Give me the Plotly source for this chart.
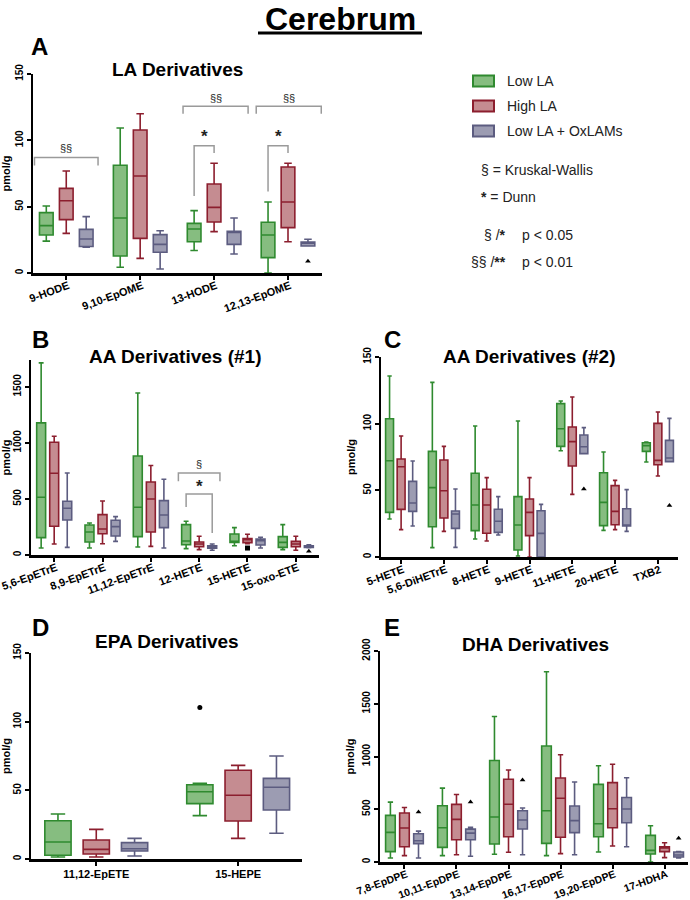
import plotly.graph_objects as go

W, H = 690, 900
FONT = "Arial, Liberation Sans, sans-serif"

# ---------------- data ----------------
groups = ["Low LA", "High LA", "Low LA + OxLAMs"]
line_colors = ["#2f8a2f", "#8c1e2e", "#5c5c80"]
fill_colors = ["#86bd80", "#c58c91", "#9c9cb2"]
group_offsets = [-0.27, 0.0, 0.27]
out_symbols = ["circle", "square", "triangle-up"]

# Panel A: LA derivatives
A_cats = ["9-HODE", "9,10-EpOME", "13-HODE", "12,13-EpOME"]
A_low_lf = [24, 4.3, 17, 0]
A_low_q1 = [28.6, 12.8, 23.6, 11.6]
A_low_med = [35.7, 41.5, 33.2, 28.6]
A_low_q3 = [45.5, 81.2, 37.4, 38.2]
A_low_uf = [50.5, 109.3, 47, 53.5]
A_high_lf = [29.9, 11, 31.2, 23.6]
A_high_q1 = [40.2, 26.1, 38.4, 34.2]
A_high_med = [54.5, 73.1, 49.5, 53.5]
A_high_q3 = [63.8, 107.8, 67.1, 79.9]
A_high_uf = [76.9, 120, 82.7, 82.7]
A_ox_lf = [19.5, 3, 14.3, 20.4]
A_ox_q1 = [20, 15.6, 21.6, 20.4]
A_ox_med = [25.6, 21.6, 30.7, 22.4]
A_ox_q3 = [32.9, 28.9, 31.4, 23.4]
A_ox_uf = [42.5, 31.9, 41.5, 25.4]
A_outliers = [(2, 3, 8.8)]  # (group, category, value)

# Panel B: AA derivatives (#1)
B_cats = ["5,6-EpETrE", "8,9-EpETrE", "11,12-EpETrE", "12-HETE", "15-HETE", "15-oxo-ETE"]
B_low_lf = [62, 62, 71, 57, 83, 48]
B_low_q1 = [155, 116, 164, 92, 113, 68]
B_low_med = [515, 205, 426, 125, 119, 113]
B_low_q3 = [1179, 268, 884, 271, 188, 164]
B_low_uf = [1714, 286, 1446, 301, 244, 271]
B_high_lf = [98, 101, 77, 48, 101, 42]
B_high_q1 = [256, 190, 205, 74, 110, 74]
B_high_med = [729, 232, 500, 98, 137, 98]
B_high_q3 = [1006, 360, 652, 116, 146, 122]
B_high_uf = [1060, 482, 798, 167, 185, 167]
B_ox_lf = [68, 122, 62, 42, 62, 65]
B_ox_q1 = [312, 170, 244, 60, 89, 68]
B_ox_med = [417, 253, 357, 74, 128, 74]
B_ox_q3 = [479, 310, 485, 83, 143, 83]
B_ox_uf = [732, 342, 676, 98, 158, 92]
B_outliers = [(1, 4, 62), (2, 5, 33)]

# Panel C: AA derivatives (#2)
C_cats = ["5-HETE", "5,6-DiHETrE", "8-HETE", "9-HETE", "11-HETE", "20-HETE", "TXB2"]
C_low_lf = [28.5, 7, 13.5, 0.7, 79.7, 20, 71.2]
C_low_q1 = [33.5, 22.7, 19.8, 5.2, 83, 23.5, 79.2]
C_low_med = [72.2, 52, 39, 24, 96.2, 41, 83.5]
C_low_q3 = [103.7, 79.2, 62.8, 45.3, 115, 63.2, 85.7]
C_low_uf = [135.7, 131, 98.2, 102, 117, 78.7, 86.2]
C_high_lf = [20.5, 19.2, 12, 0, 47, 20.5, 60.7]
C_high_q1 = [35.7, 29.2, 17.8, 16, 68.2, 24.2, 69.2]
C_high_med = [67.7, 49.7, 39, 33.5, 86.5, 34.2, 72.5]
C_high_q3 = [73.5, 72.7, 50.8, 43.5, 97.5, 53.5, 100.2]
C_high_uf = [90.7, 83, 59.5, 59.5, 120, 57.5, 108.7]
C_ox_lf = [23.2, 7.2, 16.5, 0, 77.5, 19.2, 71.5]
C_ox_q1 = [34.2, 21.5, 18.5, 0, 77.5, 23.2, 71.5]
C_ox_med = [40.5, 32.2, 26.8, 17.7, 82.7, 24, 74.2]
C_ox_q3 = [56.7, 34.5, 35.8, 34.7, 91.5, 36.2, 87.5]
C_ox_uf = [72, 51, 45.3, 39.5, 97, 50.5, 104]
C_outliers = [(2, 4, 51), (2, 6, 38.7)]

# Panel D: EPA derivatives
D_cats = ["11,12-EpETE", "15-HEPE"]
D_low_lf = [1.5, 31.6]
D_low_q1 = [2.7, 40.3]
D_low_med = [12.4, 49]
D_low_q3 = [27.9, 54.1]
D_low_uf = [32.8, 55.1]
D_high_lf = [1.5, 15]
D_high_q1 = [3.6, 27.7]
D_high_med = [7, 46.4]
D_high_q3 = [13.8, 64.6]
D_high_uf = [21.6, 68.2]
D_ox_lf = [2.2, 18.7]
D_ox_q1 = [5.8, 35.7]
D_ox_med = [7.5, 52.2]
D_ox_q3 = [11.9, 58.7]
D_ox_uf = [15, 75]
D_outliers = [(0, 1, 110.4)]

# Panel E: DHA derivatives
E_cats = ["7,8-EpDPE", "10,11-EpDPE", "13,14-EpDPE", "16,17-EpDPE", "19,20-EpDPE", "17-HDHA"]
E_low_lf = [38, 60, 73, 60, 95, 0]
E_low_q1 = [98, 139, 170, 177, 240, 76]
E_low_med = [281, 325, 426, 486, 363, 110]
E_low_q3 = [442, 533, 962, 1100, 736, 252]
E_low_uf = [568, 700, 1379, 1804, 913, 344]
E_high_lf = [60, 69, 92, 79, 152, 41]
E_high_q1 = [145, 211, 240, 234, 325, 98]
E_high_med = [322, 404, 547, 604, 505, 132]
E_high_q3 = [464, 546, 784, 796, 752, 145]
E_high_uf = [517, 640, 872, 1017, 926, 183]
E_ox_lf = [38, 54, 69, 69, 145, 38]
E_ox_q1 = [174, 211, 313, 278, 372, 47]
E_ox_med = [202, 274, 398, 392, 502, 66]
E_ox_q3 = [268, 312, 486, 531, 612, 95]
E_ox_uf = [293, 328, 512, 758, 798, 98]
E_outliers = [(2, 0, 473), (2, 1, 568), (2, 2, 777), (2, 5, 224)]

# Significance brackets: (category, left offset, right offset, line y, left end y, right end y, label, label y)
A_brackets = [
    (0, -0.43, 0.43, 87, 81, 81, "§§", 94),
    (2, -0.42, 0.46, 125.6, 120, 120, "§§", 132),
    (3, -0.43, 0.45, 125.6, 120, 120, "§§", 132),
    (2, -0.27, 0.0, 96, 58, 90.5, "*", 103),
    (3, -0.27, 0.0, 96, 61.5, 90.5, "*", 103),
]
B_brackets = [
    (3, -0.43, 0.43, 732, 658, 658, "§", 810),
    (3, -0.27, 0.27, 545, 429, 196, "*", 610),
]

panels = [
    dict(name="A", title="LA Derivatives", cats=A_cats,
         stats=[(A_low_lf, A_low_q1, A_low_med, A_low_q3, A_low_uf),
                (A_high_lf, A_high_q1, A_high_med, A_high_q3, A_high_uf),
                (A_ox_lf, A_ox_q1, A_ox_med, A_ox_q3, A_ox_uf)],
         outliers=A_outliers, brackets=A_brackets,
         box=(33, 322, 74, 273), xr=[-0.45, 3.46], yr=[0, 150], ytv=[0, 50, 100, 150],
         tickangle=-20, tickfs=11, title_xy=(177, 70), letter_xy=(39, 47)),
    dict(name="B", title="AA Derivatives (#1)", cats=B_cats,
         stats=[(B_low_lf, B_low_q1, B_low_med, B_low_q3, B_low_uf),
                (B_high_lf, B_high_q1, B_high_med, B_high_q3, B_high_uf),
                (B_ox_lf, B_ox_q1, B_ox_med, B_ox_q3, B_ox_uf)],
         outliers=B_outliers, brackets=B_brackets,
         box=(31, 319, 360, 555), xr=[-0.48, 5.48], yr=[0, 1740], ytv=[0, 500, 1000, 1500],
         tickangle=-20, tickfs=11, title_xy=(175, 356), letter_xy=(40, 339)),
    dict(name="C", title="AA Derivatives (#2)", cats=C_cats,
         stats=[(C_low_lf, C_low_q1, C_low_med, C_low_q3, C_low_uf),
                (C_high_lf, C_high_q1, C_high_med, C_high_q3, C_high_uf),
                (C_ox_lf, C_ox_q1, C_ox_med, C_ox_q3, C_ox_uf)],
         outliers=C_outliers, brackets=[],
         box=(381, 678, 357, 557), xr=[-0.47, 6.47], yr=[0, 150], ytv=[0, 50, 100, 150],
         tickangle=-20, tickfs=11, title_xy=(529, 356), letter_xy=(392, 339)),
    dict(name="D", title="EPA Derivatives", cats=D_cats,
         stats=[(D_low_lf, D_low_q1, D_low_med, D_low_q3, D_low_uf),
                (D_high_lf, D_high_q1, D_high_med, D_high_q3, D_high_uf),
                (D_ox_lf, D_ox_q1, D_ox_med, D_ox_q3, D_ox_uf)],
         outliers=D_outliers, brackets=[],
         box=(31, 302, 653, 859), xr=[-0.46, 1.45], yr=[0, 150], ytv=[0, 50, 100, 150],
         tickangle=0, tickfs=11, title_xy=(167, 641), letter_xy=(40, 627)),
    dict(name="E", title="DHA Derivatives", cats=E_cats,
         stats=[(E_low_lf, E_low_q1, E_low_med, E_low_q3, E_low_uf),
                (E_high_lf, E_high_q1, E_high_med, E_high_q3, E_high_uf),
                (E_ox_lf, E_ox_q1, E_ox_med, E_ox_q3, E_ox_uf)],
         outliers=E_outliers, brackets=[],
         box=(380, 688, 651, 862), xr=[-0.47, 5.45], yr=[0, 2000], ytv=[0, 500, 1000, 1500, 2000],
         tickangle=-20, tickfs=10.5, title_xy=(535, 644), letter_xy=(392, 627)),
]


def px(xp):
    return xp / W


def py(yp):
    return 1 - yp / H


fig = go.Figure()
layout = dict(
    width=W, height=H, margin=dict(l=0, r=0, t=0, b=0),
    paper_bgcolor="white", plot_bgcolor="white", showlegend=False,
    template="none", font=dict(family=FONT, color="black"),
)
annotations = []
shapes = []

for i, p in enumerate(panels, start=1):
    xa = "x" if i == 1 else f"x{i}"
    ya = "y" if i == 1 else f"y{i}"
    xkey = "xaxis" if i == 1 else f"xaxis{i}"
    ykey = "yaxis" if i == 1 else f"yaxis{i}"
    n = len(p["cats"])
    for g in range(3):
        lf, q1, med, q3, uf = p["stats"][g]
        fig.add_trace(go.Box(
            x=[k + group_offsets[g] for k in range(n)],
            lowerfence=lf, q1=q1, median=med, q3=q3, upperfence=uf,
            width=0.185, whiskerwidth=0.55, boxpoints=False,
            line=dict(color=line_colors[g], width=1.6),
            fillcolor=fill_colors[g], name=groups[g],
            xaxis=xa, yaxis=ya, hoverinfo="skip",
        ))
    for g in range(3):
        pts = [(c, v) for (gg, c, v) in p["outliers"] if gg == g]
        if pts:
            fig.add_trace(go.Scatter(
                x=[c + group_offsets[g] for c, v in pts], y=[v for c, v in pts],
                mode="markers", marker=dict(symbol=out_symbols[g], size=5, color="black"),
                xaxis=xa, yaxis=ya, hoverinfo="skip",
            ))
    x0, x1, y0, y1 = p["box"]
    angled = p["tickangle"] != 0
    layout[xkey] = dict(
        domain=[px(x0), px(x1)], anchor=ya, range=p["xr"],
        tickmode="array", tickvals=list(range(n)), ticktext=p["cats"],
        tickangle=p["tickangle"], ticks="outside", ticklen=4, tickwidth=2, tickcolor="black",
        showline=True, linewidth=2.5, linecolor="black", showgrid=False, zeroline=False,
        tickfont=dict(family=FONT, size=p["tickfs"], color="black", weight="bold"),
        ticklabeloverflow="allow",
        ticklabelstandoff=-4 if angled else -1,
        ticklabelshift=2 if angled else 0,
        automargin=False, fixedrange=True,
    )
    layout[ykey] = dict(
        domain=[py(y1), py(y0)], anchor=xa, range=p["yr"],
        tickmode="array", tickvals=p["ytv"], ticktext=[str(v) for v in p["ytv"]],
        tickangle=-90, ticks="outside", ticklen=4, tickwidth=2, tickcolor="black",
        showline=True, linewidth=2.5, linecolor="black", showgrid=False, zeroline=False,
        tickfont=dict(family=FONT, size=10, color="black", weight="bold"),
        title=dict(text="pmol/g", font=dict(family=FONT, size=11, color="black", weight="bold"), standoff=4),
        ticklabeloverflow="allow",
        automargin=False, fixedrange=True,
    )
    # panel title and letter
    tx, ty = p["title_xy"]
    annotations.append(dict(text=f"<b>{p['title']}</b>", x=px(tx), y=py(ty), xref="paper", yref="paper",
                            xanchor="center", yanchor="middle", showarrow=False,
                            font=dict(family=FONT, size=19, color="black")))
    lx, ly = p["letter_xy"]
    annotations.append(dict(text=f"<b>{p['name']}</b>", x=px(lx), y=py(ly), xref="paper", yref="paper",
                            xanchor="center", yanchor="middle", showarrow=False,
                            font=dict(family=FONT, size=24, color="black")))
    # significance brackets
    for (c, lo, ro, yl, yle, yre, lab, laby) in p["brackets"]:
        xl, xr_ = c + lo, c + ro
        shapes.append(dict(type="path", xref=xa, yref=ya,
                           path=f"M {xl},{yle} L {xl},{yl} L {xr_},{yl} L {xr_},{yre}",
                           line=dict(color="#9a9a9a", width=1.5)))
        is_star = lab == "*"
        annotations.append(dict(text=f"<b>{lab}</b>" if is_star else lab, x=(xl + xr_) / 2, y=laby,
                                xref=xa, yref=ya, xanchor="center", yanchor="middle", showarrow=False,
                                font=dict(family=FONT, size=17 if is_star else 11, color="#222")))

# main title
annotations.append(dict(text="<b>Cerebrum</b>", x=px(340), y=1, xref="paper", yref="paper",
                        xanchor="center", yanchor="top", showarrow=False, borderpad=0,
                        font=dict(family=FONT, size=32, color="black")))
shapes.append(dict(type="line", xref="paper", yref="paper", x0=px(258), x1=px(422), y0=py(33), y1=py(33),
                   line=dict(color="black", width=3)))

# legend (manual)
legend_y = [81, 106, 131]
for g in range(3):
    shapes.append(dict(type="rect", xref="paper", yref="paper",
                       x0=px(473), x1=px(494), y0=py(legend_y[g] - 5.5), y1=py(legend_y[g] + 5.5),
                       line=dict(color=line_colors[g], width=2), fillcolor=fill_colors[g]))
    annotations.append(dict(text=groups[g], x=px(505), y=py(legend_y[g]), xref="paper", yref="paper",
                            xanchor="left", yanchor="middle", showarrow=False,
                            font=dict(family=FONT, size=14, color="#222")))

key_lines = [
    ("§ = Kruskal-Wallis", 479, 170),
    ("<b>*</b> = Dunn", 479, 197),
]
for txt, x, y in key_lines:
    annotations.append(dict(text=txt, x=px(x), y=py(y), xref="paper", yref="paper",
                            xanchor="left", yanchor="middle", showarrow=False,
                            font=dict(family=FONT, size=14, color="#222")))
p_lines = [("§ /<b>*</b>", "p < 0.05", 235), ("§§ /<b>**</b>", "p < 0.01", 262)]
for sym, txt, y in p_lines:
    annotations.append(dict(text=sym, x=px(508), y=py(y), xref="paper", yref="paper",
                            xanchor="right", yanchor="middle", showarrow=False,
                            font=dict(family=FONT, size=14, color="#222")))
    annotations.append(dict(text=txt, x=px(520), y=py(y), xref="paper", yref="paper",
                            xanchor="left", yanchor="middle", showarrow=False,
                            font=dict(family=FONT, size=14, color="#222")))

layout["annotations"] = annotations
layout["shapes"] = shapes
fig.update_layout(**layout)
fig.write_html(
    "out.html",
    config={"displayModeBar": False, "staticPlot": True},
    post_script="document.body.style.margin='0';document.body.style.padding='0';document.body.style.overflow='hidden';",
)
